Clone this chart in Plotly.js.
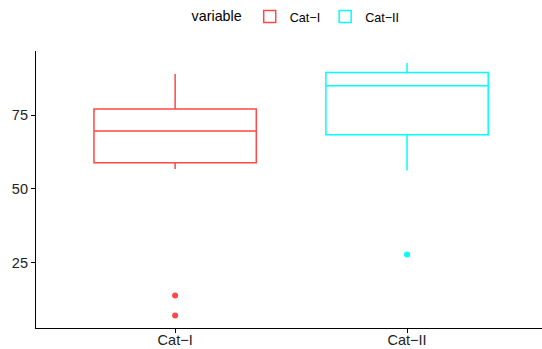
<!DOCTYPE html>
<html>
<head>
<meta charset="utf-8">
<script src="https://cdn.plot.ly/plotly-3.0.1.min.js"></script>
<style>html,body{margin:0;padding:0;background:#fff;}#chart{width:542px;height:349px;}</style>
</head>
<body>
<div id="chart"></div>
<script>
const categories = ["Cat\u2212I", "Cat\u2212II"];
const q1 = [58.9, 68.3];
const medians = [69.6, 84.9];
const q3 = [77.1, 89.4];
const lowerFence = [56.7, 56.2];
const upperFence = [88.9, 92.6];
const outlierCats = ["Cat\u2212I", "Cat\u2212I", "Cat\u2212II"];
const outlierVals = [13.9, 7.1, 27.8];
const colors = ["#FF4848", "#00FFFF"];

const traces = [];
categories.forEach((c, i) => {
  traces.push({
    type: "box",
    name: c,
    x: [c],
    q1: [q1[i]],
    median: [medians[i]],
    q3: [q3[i]],
    lowerfence: [lowerFence[i]],
    upperfence: [upperFence[i]],
    width: 0.7,
    whiskerwidth: 0,
    fillcolor: "rgba(255,255,255,0)",
    line: {color: colors[i], width: 1.5},
    hoverinfo: "skip"
  });
});
categories.forEach((c, i) => {
  const xs = [], ys = [];
  outlierCats.forEach((oc, j) => { if (oc === c) { xs.push(oc); ys.push(outlierVals[j]); } });
  traces.push({
    type: "scatter",
    mode: "markers",
    x: xs,
    y: ys,
    marker: {color: colors[i], size: 6},
    showlegend: false,
    hoverinfo: "skip"
  });
});

const layout = {
  width: 542,
  height: 349,
  margin: {l: 36, r: 0, t: 51, b: 21},
  paper_bgcolor: "#fff",
  plot_bgcolor: "#fff",
  font: {family: "Liberation Sans, Arial, sans-serif", color: "#000"},
  boxmode: "overlay",
  showlegend: true,
  legend: {
    orientation: "h",
    x: 0.516, xanchor: "center",
    y: 1.123, yanchor: "middle",
    title: {text: "variable", font: {size: 14.3, color: "#000"}},
    font: {size: 12.6, color: "#000"},
    itemwidth: 30,
    tracegroupgap: 0
  },
  xaxis: {
    type: "category",
    range: [-0.6, 1.582],
    showline: true, linecolor: "#000", linewidth: 1.1,
    ticks: "outside", ticklen: 4, tickcolor: "#000", tickwidth: 1,
    showgrid: false, zeroline: false,
    tickfont: {size: 14.5, color: "#222"},
    ticklabelstandoff: -6,
    fixedrange: true
  },
  yaxis: {
    range: [2.9, 96.7],
    tickvals: [25, 50, 75],
    showline: true, linecolor: "#000", linewidth: 1.1,
    ticks: "outside", ticklen: 4, tickcolor: "#000", tickwidth: 1,
    showgrid: false, zeroline: false,
    tickfont: {size: 14.5, color: "#222"},
    fixedrange: true
  }
};

Plotly.newPlot("chart", traces, layout, {displayModeBar: false, staticPlot: true});
</script>
</body>
</html>
